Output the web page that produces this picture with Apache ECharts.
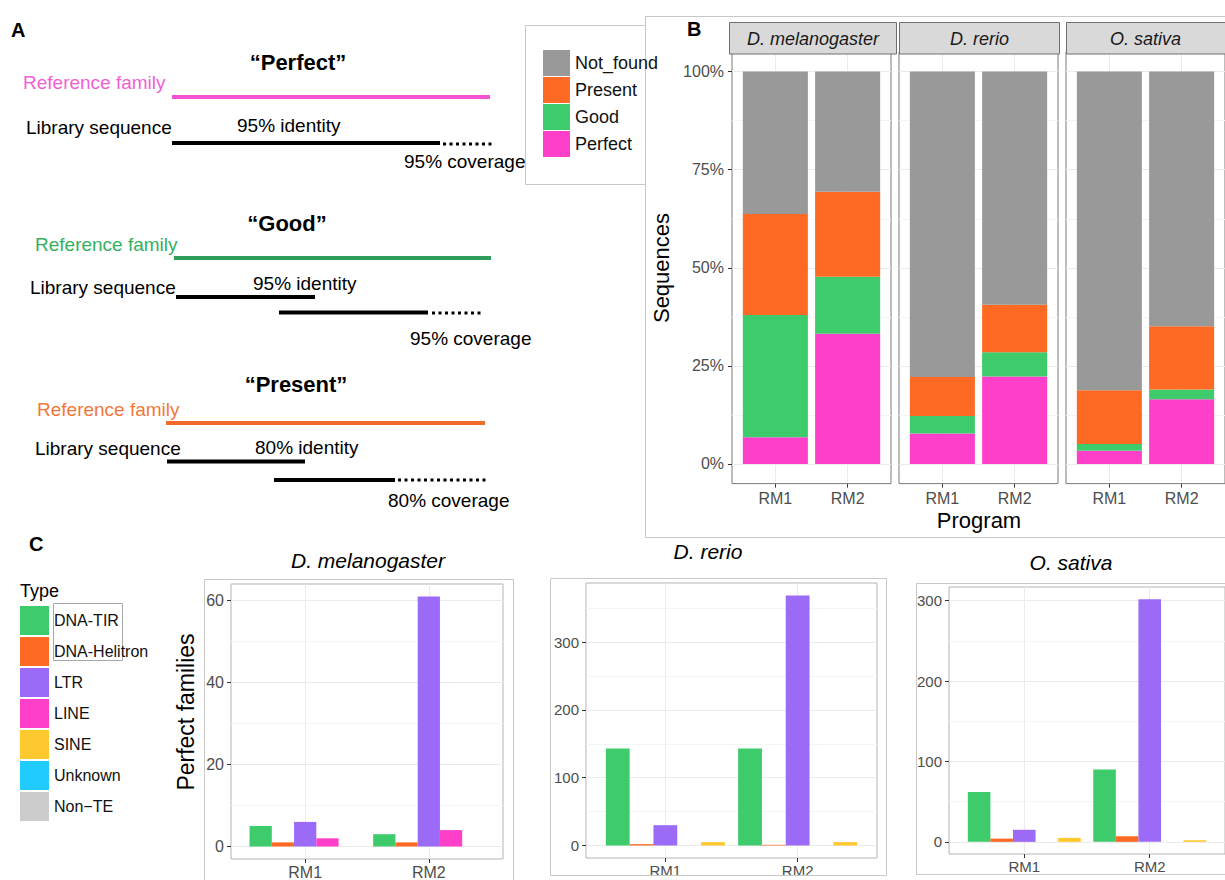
<!DOCTYPE html>
<html><head><meta charset="utf-8">
<script src="https://cdn.jsdelivr.net/npm/echarts@6/dist/echarts.min.js"></script>
<style>html,body{margin:0;padding:0;background:#fff}#chart{width:1225px;height:880px}</style>
</head><body><div id="chart"></div>
<script>
// ---------- Panel B: share of sequences (%) per facet, [RM1, RM2] ----------
const facets = ['D. melanogaster', 'D. rerio', 'O. sativa'];
const programs = ['RM1', 'RM2'];
const seqClasses = ['Not_found', 'Present', 'Good', 'Perfect'];
const perfectPct  = [[6.8, 33.2], [7.8, 22.3], [3.4, 16.5]];
const goodPct     = [[31.2, 14.5], [4.4, 6.2], [1.7, 2.5]];
const presentPct  = [[25.7, 21.7], [10.0, 12.1], [13.7, 16.1]];
const notFoundPct = [[36.3, 30.6], [77.8, 59.4], [81.2, 64.9]];
const pctTicks = [0, 25, 50, 75, 100];
const pctMinorTicks = [12.5, 37.5, 62.5, 87.5];

// ---------- Panel C: perfect families per TE type, per facet [RM1, RM2] ----------
const teTypes = ['DNA-TIR', 'DNA-Helitron', 'LTR', 'LINE', 'SINE', 'Unknown', 'Non\u2212TE'];
const dnaTir      = [[5, 3], [143, 143], [62, 90]];
const dnaHelitron = [[1, 1], [2, 1], [4, 7]];
const ltr         = [[6, 61], [30, 369], [15, 302]];
const lineTE      = [[2, 4], [0, 0], [0, 0]];
const sine        = [[0, 0], [5, 5], [5, 2]];
const unknownTE   = [[0, 0], [0, 0], [0, 0]];
const nonTE       = [[0, 0], [0, 0], [0, 0]];
const familyTicks = [[0, 20, 40, 60], [0, 100, 200, 300], [0, 100, 200, 300]];
const familyMinorTicks = [[10, 30, 50], [50, 150, 250, 350], [50, 150, 250]];

// ---------- styling / layout ----------
const FONT = '"Liberation Sans", Arial, Helvetica, sans-serif';
const bColors = { Not_found: '#999999', Present: '#fe6a23', Good: '#3ecb6b', Perfect: '#fe3fca' };
const teColors = ['#3ecb6b', '#fe6a23', '#9b6bf8', '#fe3fca', '#fec92e', '#22cbfe', '#cccccc'];
const pctByClass = { Not_found: notFoundPct, Present: presentPct, Good: goodPct, Perfect: perfectPct };
const stackOrder = ['Perfect', 'Good', 'Present', 'Not_found'];
const teValues = [dnaTir, dnaHelitron, ltr, lineTE, sine, unknownTE, nonTE];
const dodgeCount = 5;
const slotW = 0.9 / dodgeCount;

const bGrids = [
  { left: 732, top: 52, width: 159, height: 431.6 },
  { left: 899, top: 52, width: 159, height: 431.6 },
  { left: 1066, top: 52, width: 159, height: 431.6 }
];
const cGrids = [
  { left: 231, top: 584, width: 272, height: 279 },
  { left: 586, top: 583, width: 291, height: 275 },
  { left: 949, top: 587, width: 284, height: 267 }
];
const cFontSizes = [16, 15, 15];

function stackRect(params, api) {
  const x = api.value(0), y0 = api.value(1), y1 = api.value(2);
  const a = api.coord([x - 0.45, y1]);
  const b = api.coord([x + 0.45, y0]);
  return { type: 'rect', shape: { x: a[0], y: a[1], width: b[0] - a[0], height: b[1] - a[1] },
           style: { fill: api.visual('color') } };
}
function dodgeRect(params, api) {
  const v = api.value(1);
  if (!v) return null;
  const xl = api.value(0) - 0.45 + slotW * api.value(2);
  const a = api.coord([xl, v]);
  const b = api.coord([xl + slotW, 0]);
  return { type: 'rect', shape: { x: a[0], y: a[1], width: b[0] - a[0], height: b[1] - a[1] },
           style: { fill: api.visual('color') } };
}

const grids = [], xAxes = [], yAxes = [], series = [];
const tickColor = '#333333', labColor = '#4d4d4d', majorGrid = '#ebebeb', minorGrid = '#f4f4f4';

function addAxes(g, gridIndex, ymin, ymax, majors, minors, showY, fs, ymargin, xmargin, borderColor, fmt) {
  grids.push(Object.assign({ show: true, borderColor: borderColor, borderWidth: 1, backgroundColor: '#fff' }, g));
  xAxes.push({
    gridIndex, type: 'value', min: 0.4, max: 2.6,
    axisLine: { show: false, onZero: false },
    axisTick: { show: true, length: 4, customValues: [1, 2], lineStyle: { color: tickColor } },
    axisLabel: { customValues: [1, 2], formatter: v => programs[Math.round(v) - 1], fontSize: fs, color: labColor, margin: xmargin, fontFamily: FONT },
    splitLine: { show: true, lineStyle: { color: majorGrid, width: 1 } }
  });
  yAxes.push({
    gridIndex, type: 'value', min: ymin, max: ymax, position: 'left',
    axisLine: { show: false, onZero: false },
    axisTick: { show: showY, length: 4, customValues: majors, lineStyle: { color: tickColor } },
    axisLabel: { show: showY, customValues: majors, formatter: fmt, fontSize: fs, color: labColor, margin: ymargin, fontFamily: FONT },
    splitLine: { show: true, lineStyle: { color: majorGrid, width: 1 } }
  });
  yAxes.push({
    gridIndex, type: 'value', min: ymin, max: ymax, position: 'right',
    axisLine: { show: false, onZero: false },
    axisTick: { show: false, customValues: minors },
    axisLabel: { show: false, customValues: minors },
    splitLine: { show: true, lineStyle: { color: minorGrid, width: 1 } }
  });
}

// Panel B grids and stacked bars
facets.forEach((f, k) => {
  addAxes(bGrids[k], k, -5, 105, pctTicks, pctMinorTicks, k === 0, 16, 8, 7, '#7a7a7a', '{value}%');
  const base = [0, 0];
  stackOrder.forEach(cls => {
    const vals = pctByClass[cls][k];
    const data = programs.map((p, i) => {
      const d = [i + 1, base[i], base[i] + vals[i]];
      base[i] += vals[i];
      return d;
    });
    series.push({ type: 'custom', name: cls, xAxisIndex: k, yAxisIndex: 2 * k, renderItem: stackRect,
      encode: { x: 0, y: [1, 2] }, itemStyle: { color: bColors[cls] }, data, silent: true, z: 3 });
  });
});

// Panel C grids and dodged bars
facets.forEach((f, k) => {
  const gi = 3 + k;
  let vmax = 0;
  teValues.forEach(arr => arr[k].forEach(v => { vmax = Math.max(vmax, v); }));
  addAxes(cGrids[k], gi, -0.05 * vmax, 1.05 * vmax, familyTicks[k], familyMinorTicks[k], true, cFontSizes[k], 7, 5, '#b4b4b4', '{value}');
  teTypes.forEach((t, ti) => {
    const data = programs.map((p, i) => [i + 1, teValues[ti][k][i], ti]);
    series.push({ type: 'custom', name: t, xAxisIndex: gi, yAxisIndex: 2 * gi, renderItem: dodgeRect,
      encode: { x: 0, y: 1 }, itemStyle: { color: teColors[ti] }, data, silent: true, z: 3 });
  });
});

// ---------- graphic (schematic panel A, boxes, strips, titles) ----------
function txt(text, x, y, size, o) {
  o = o || {};
  return { type: 'text', x, y, rotation: o.rot || 0, silent: true, z: 10,
    style: { text, fontSize: size, fontFamily: FONT, fontWeight: o.bold ? 'bold' : 'normal',
      fontStyle: o.italic ? 'italic' : 'normal', fill: o.color || '#000',
      align: o.align || 'left', textAlign: o.align || 'left',
      verticalAlign: 'middle', textVerticalAlign: 'middle' } };
}
function seg(x1, y1, x2, y2, color, w, dash) {
  return { type: 'line', silent: true, z: 10, shape: { x1, y1, x2, y2 },
    style: { stroke: color, lineWidth: w, lineDash: dash || null } };
}
function box(x, y, w, h, stroke, fill) {
  return { type: 'rect', silent: true, z: fill ? 5 : 1, shape: { x, y, width: w, height: h },
    style: { stroke, fill: fill || 'none', lineWidth: 1 } };
}

const pinkT = '#f060d4', pinkL = '#f552d6', greenT = '#34b160', greenL = '#2e9e5a', orangeT = '#f3773a', orangeL = '#f26b2b';
const dotted = [3, 3.5];
const els = [
  // Panel A
  txt('A', 11, 30, 20, { bold: true }),
  txt('\u201cPerfect\u201d', 298, 62, 22, { bold: true, align: 'center' }),
  txt('Reference family', 23, 82, 19, { color: pinkT }),
  seg(172, 97, 490, 97, pinkL, 4),
  txt('Library sequence', 26, 127, 19),
  txt('95% identity', 237, 125, 19),
  seg(172, 143, 440, 143, '#000', 4),
  seg(443, 144, 494, 144, '#000', 3, dotted),
  txt('95% coverage', 404, 161, 19),

  txt('\u201cGood\u201d', 287, 223, 22, { bold: true, align: 'center' }),
  txt('Reference family', 35, 244, 19, { color: greenT }),
  seg(174, 258, 491, 258, greenL, 4),
  txt('Library sequence', 30, 287, 19),
  txt('95% identity', 253, 283, 19),
  seg(176, 297, 315, 297, '#000', 4),
  seg(279, 312.5, 428, 312.5, '#000', 4),
  seg(432, 313, 484, 313, '#000', 3, dotted),
  txt('95% coverage', 410, 338, 19),

  txt('\u201cPresent\u201d', 296, 384, 22, { bold: true, align: 'center' }),
  txt('Reference family', 37, 409, 19, { color: orangeT }),
  seg(166, 423, 485, 423, orangeL, 4),
  txt('Library sequence', 35, 448, 19),
  txt('80% identity', 255, 447, 19),
  seg(167, 461.5, 305, 461.5, '#000', 4),
  seg(274, 480, 395, 480, '#000', 4),
  seg(398, 480, 486, 480, '#000', 3, dotted),
  txt('80% coverage', 388, 500, 19),

  // Panel B frame, legend box, strips, titles
  box(645.5, 16.5, 600, 521, '#c8c8c8'),
  box(525.5, 25.5, 120, 159, '#c8c8c8'),
  txt('B', 687, 29, 20, { bold: true }),
  box(729.5, 22.5, 167, 31.5, '#6e6e6e', '#d9d9d9'),
  box(899.5, 22.5, 160, 31.5, '#6e6e6e', '#d9d9d9'),
  box(1066.5, 22.5, 165, 31.5, '#6e6e6e', '#d9d9d9'),
  txt('D. melanogaster', 813, 39, 18, { italic: true, align: 'center', color: '#1a1a1a' }),
  txt('D. rerio', 979.5, 39, 18, { italic: true, align: 'center', color: '#1a1a1a' }),
  txt('O. sativa', 1145.5, 39, 18, { italic: true, align: 'center', color: '#1a1a1a' }),
  txt('Sequences', 661, 268, 22, { rot: Math.PI / 2, align: 'center' }),
  txt('Program', 979, 520, 22, { align: 'center' }),

  // Panel C
  txt('C', 29, 544, 20, { bold: true }),
  txt('Type', 20, 591, 18),
  box(53.5, 603.5, 69, 57, '#a8a8a8'),
  box(204.5, 579.5, 309, 320, '#c8c8c8'),
  box(550.5, 578.5, 336, 297, '#c8c8c8'),
  box(916.5, 583.5, 330, 291, '#c8c8c8'),
  txt('D. melanogaster', 368, 560, 21, { italic: true, align: 'center' }),
  txt('D. rerio', 708, 551, 21, { italic: true, align: 'center' }),
  txt('O. sativa', 1071, 562, 21, { italic: true, align: 'center' }),
  txt('Perfect families', 186, 712, 23, { rot: Math.PI / 2, align: 'center' })
];

const option = {
  animation: false,
  textStyle: { fontFamily: FONT },
  grid: grids,
  xAxis: xAxes,
  yAxis: yAxes,
  legend: [
    { data: seqClasses, orient: 'vertical', left: 543, top: 50, padding: 0, itemGap: 1,
      itemWidth: 27, itemHeight: 26, icon: 'rect', selectedMode: false,
      itemStyle: { borderWidth: 0 },
      textStyle: { fontSize: 18, color: '#111', fontFamily: FONT } },
    { data: teTypes, orient: 'vertical', left: 20, top: 606, padding: 0, itemGap: 2,
      itemWidth: 29, itemHeight: 29, icon: 'rect', selectedMode: false,
      itemStyle: { borderWidth: 0 },
      textStyle: { fontSize: 16, color: '#111', fontFamily: FONT } }
  ],
  graphic: { elements: els },
  series
};

const chart = echarts.init(document.getElementById('chart'), null, { renderer: 'svg', width: 1225, height: 880 });
chart.setOption(option);
</script>
</body></html>
